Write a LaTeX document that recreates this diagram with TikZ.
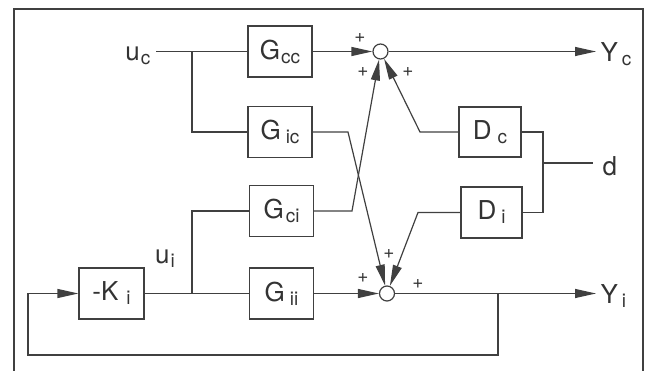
\documentclass[tikz,border=0pt]{standalone}
\usepackage{fontspec}
\setmainfont{TeX Gyre Heros}
\usetikzlibrary{arrows.meta}
\newcommand\lab[3]{{\fontsize{26}{26}\selectfont #1}\hspace{#3}\raisebox{-4pt}{\fontsize{19}{19}\selectfont #2}}
\begin{document}
\begin{tikzpicture}[x=1pt,y=-1pt,
  line width=1.2pt, draw=black!75,
  blk/.style={draw, rectangle, minimum width=64pt, minimum height=51pt, inner sep=0pt, text=black!80},
  sumc/.style={draw, circle, minimum size=15pt, inner sep=0pt},
  arr/.style={-{Triangle[length=21pt,width=9pt]}},
  pl/.style={font=\fontsize{19}{19}\selectfont, text=black!80, inner sep=0pt},
  sig/.style={text=black!80, inner sep=0pt}]
\useasboundingbox (0,0) rectangle (649,371);
\draw (14,371) -- (14,9) -- (643,9) -- (643,371);
% blocks
\node[blk] (gcc) at (280,51.5) {\lab{G}{cc}{1pt}};
\node[blk] (gic) at (280,132) {\lab{G}{ic}{5pt}};
\node[blk] (gci) at (281.5,211) {\lab{G}{ci}{2pt}};
\node[blk] (gii) at (281.5,293.5) {\lab{G}{ii}{5pt}};
\node[blk, minimum width=65pt] (ki) at (111.5,293.5) {\lab{-K}{i}{8pt}};
\node[blk, minimum width=62pt, minimum height=50pt] (dc) at (490,132) {\lab{D}{c}{6pt}};
\node[blk, minimum width=61pt] (di) at (491.5,212.5) {\lab{D}{i}{5pt}};
\node[sumc] (s1) at (380.5,51.5) {};
\node[sumc] (s2) at (387,293.5) {};
% coordinates
\coordinate (ucs) at (156,51.5);
\coordinate (b1) at (192,51.5);
\coordinate (b2) at (192,293.5);
\coordinate (c1) at (348,132);
\coordinate (c2) at (352,211);
\coordinate (c3) at (420,132);
\coordinate (c4) at (418,212.5);
\coordinate (dr1) at (543,132);
\coordinate (dr2) at (543,212.5);
\coordinate (dj) at (543,163);
\coordinate (de) at (593,163);
\coordinate (yce) at (596,51.5);
\coordinate (yie) at (596,293.5);
\coordinate (f1) at (498,293.5);
\coordinate (f2) at (498,355);
\coordinate (f3) at (28,355);
\coordinate (f4) at (28,293.5);
% labels
\node[sig, anchor=east] (uc) at (151,56) {\lab{u}{c}{1pt}};
\node[sig] (ui) at (165,259) {\lab{u}{i}{1pt}};
\node[sig, anchor=west] (yc) at (600,54) {\lab{Y}{c}{4pt}};
\node[sig, anchor=west] (yi) at (600,296) {\lab{Y}{i}{4pt}};
\node[sig, anchor=west] (dl) at (602,166) {{\fontsize{26}{26}\selectfont d}};
% wires
\draw (ucs) -- (gcc.west);
\draw (b1) |- (gic.west);
\draw[arr] (gcc.east) -- (s1);
\draw[arr] (s1) -- (yce);
\draw[arr] (gic.east) -- (c1) -- (s2);
\draw[arr] (gci.east) -- (c2) -- (s1);
\draw[arr] (dc.west) -- (c3) -- (s1);
\draw[arr] (di.west) -- (c4) -- (s2);
\draw (dc.east) -- (dr1) -- (dr2) -- (di.east);
\draw (dj) -- (de);
\draw (ki.east) -- (gii.west);
\draw (b2) |- (gci.west);
\draw[arr] (gii.east) -- (s2);
\draw[arr] (s2) -- (yie);
\draw[arr] (f1) -- (f2) -- (f3) -- (f4) -- (ki.west);
% plus signs
\node[pl] (p1) at (360,38) {+};
\node[pl] (p2) at (363,72) {+};
\node[pl] (p3) at (408,72) {+};
\node[pl] (p4) at (389,254) {+};
\node[pl] (p5) at (363,278) {+};
\node[pl] (p6) at (418,284) {+};
\end{tikzpicture}
\end{document}
